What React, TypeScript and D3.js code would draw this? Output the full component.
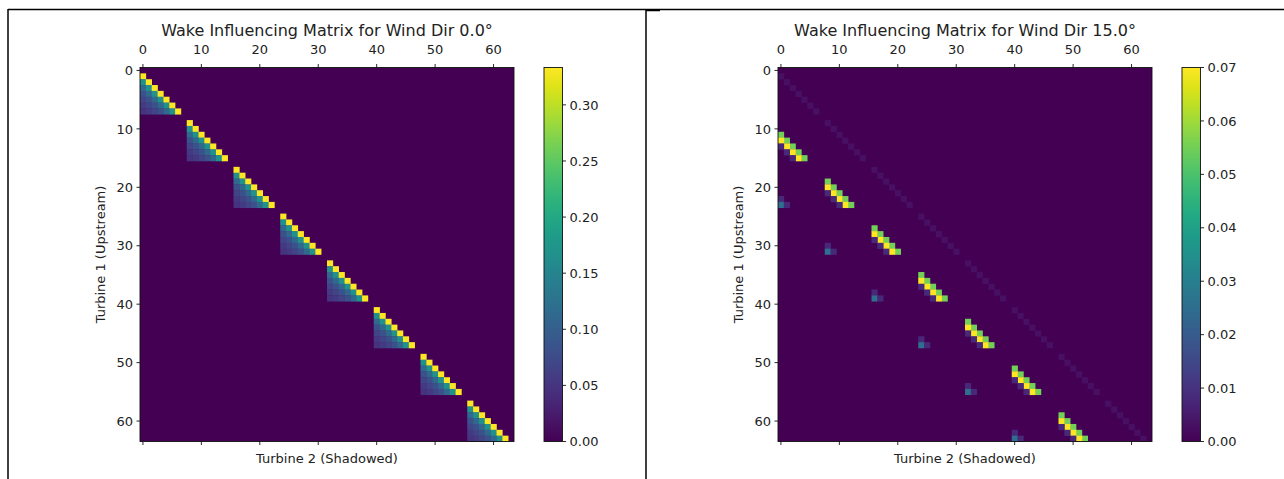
import React from 'react';
import * as d3 from 'd3';

// 8 x 8 farm -> 64 x 64 influence matrix (row = upstream turbine, col = shadowed turbine)
const GRID = 8;
const N = GRID * GRID;

const AXIS_TICKS = [0, 10, 20, 30, 40, 50, 60];

// Wind dir 0 deg: influence inside one grid row, by gap (1..7) between the turbines
const WAKE_0_BY_GAP = [0.333, 0.167, 0.111, 0.083, 0.067, 0.056, 0.048];
const CBAR_0_TICKS = [0, 0.05, 0.1, 0.15, 0.2, 0.25, 0.3];
const VMAX_0 = 0.3333;

// Wind dir 15 deg
const WAKE_15_SAME_ROW = [0.003]; // gap 1 only
const WAKE_15_NEXT_ROW = [
    { shift: 3, v: 0.055 },
    { shift: 4, v: 0.07 },
    { shift: 5, v: 0.008 },
];
const WAKE_15_SECOND_ROW = [
    { p: 6, q: 0, v: 0.008 },
    { p: 7, q: 0, v: 0.025 },
    { p: 7, q: 1, v: 0.008 },
];
const CBAR_15_TICKS = [0, 0.01, 0.02, 0.03, 0.04, 0.05, 0.06, 0.07];
const VMAX_15 = 0.07;

type Cell = { r: number; c: number; v: number };

const cells0: Cell[] = [];
for (let b = 0; b < GRID; b++) {
    for (let p = 0; p < GRID; p++) {
        for (let q = 0; q < p; q++) {
            cells0.push({ r: b * GRID + p, c: b * GRID + q, v: WAKE_0_BY_GAP[p - q - 1] });
        }
    }
}

const cells15: Cell[] = [];
for (let b = 0; b < GRID; b++) {
    WAKE_15_SAME_ROW.forEach((v, i) => {
        for (let q = 0; q + i + 1 < GRID; q++) {
            cells15.push({ r: b * GRID + q + i + 1, c: b * GRID + q, v });
        }
    });
    if (b + 1 < GRID) {
        WAKE_15_NEXT_ROW.forEach(({ shift, v }) => {
            for (let q = 0; q + shift < GRID; q++) {
                cells15.push({ r: (b + 1) * GRID + q + shift, c: b * GRID + q, v });
            }
        });
    }
    if (b + 2 < GRID) {
        WAKE_15_SECOND_ROW.forEach(({ p, q, v }) => {
            cells15.push({ r: (b + 2) * GRID + p, c: b * GRID + q, v });
        });
    }
}

const FONT = 'DejaVu Sans, sans-serif';
const TEXT = '#222';

const Panel = ({ ox, title, cells, vmax, cbarTicks, id }: {
    ox: number; title: string; cells: Cell[]; vmax: number; cbarTicks: number[]; id: string;
}) => {
    const top = 67.5;
    const size = 374;
    const x = d3.scaleLinear().domain([-0.5, N - 0.5]).range([ox, ox + size]);
    const y = d3.scaleLinear().domain([-0.5, N - 0.5]).range([top, top + size]);
    const color = d3.scaleSequential(d3.interpolateViridis).domain([0, vmax]);
    const cw = x(1) - x(0);

    const cbX = ox + size + 30;
    const cbW = 18.5;
    const cb = d3.scaleLinear().domain([0, vmax]).range([top + size, top]);
    const fmt = d3.format('.2f');
    const stops = d3.range(0, 1.0001, 0.05);

    return (
        <g>
            <defs>
                <linearGradient id={id} x1="0" y1="1" x2="0" y2="0">
                    {stops.map(t => (
                        <stop key={t} offset={t} stopColor={d3.interpolateViridis(t)} />
                    ))}
                </linearGradient>
            </defs>
            <text x={ox + size / 2} y={36} textAnchor="middle" fontSize={16} fontFamily={FONT} fill={TEXT}>
                {title}
            </text>
            <rect x={ox} y={top} width={size} height={size} fill={color(0)} />
            {cells.map((d, i) => (
                <rect key={i} x={x(d.c - 0.5)} y={y(d.r - 0.5)} width={cw + 0.3} height={cw + 0.3}
                    fill={color(d.v)} />
            ))}
            <rect x={ox} y={top} width={size} height={size} fill="none" stroke="#111" strokeWidth={0.9} />
            {AXIS_TICKS.map(t => (
                <g key={t}>
                    <line x1={x(t)} x2={x(t)} y1={top} y2={top - 3.5} stroke="#111" strokeWidth={0.9} />
                    <line x1={x(t)} x2={x(t)} y1={top + size} y2={top + size + 3.5} stroke="#111" strokeWidth={0.9} />
                    <text x={x(t)} y={54} textAnchor="middle" fontSize={13} fontFamily={FONT} fill={TEXT}>{t}</text>
                    <line x1={ox} x2={ox - 3.5} y1={y(t)} y2={y(t)} stroke="#111" strokeWidth={0.9} />
                    <text x={ox - 7} y={y(t)} dy="0.36em" textAnchor="end" fontSize={13} fontFamily={FONT} fill={TEXT}>{t}</text>
                </g>
            ))}
            <text x={ox + size / 2} y={463} textAnchor="middle" fontSize={13} fontFamily={FONT} fill={TEXT}>
                Turbine 2 (Shadowed)
            </text>
            <text transform={`translate(${ox - 35},${top + size / 2}) rotate(-90)`} textAnchor="middle"
                fontSize={13} fontFamily={FONT} fill={TEXT}>
                Turbine 1 (Upstream)
            </text>
            <rect x={cbX} y={top} width={cbW} height={size} fill={`url(#${id})`} stroke="#111" strokeWidth={0.9} />
            {cbarTicks.map(t => (
                <g key={t}>
                    <line x1={cbX + cbW} x2={cbX + cbW + 3.5} y1={cb(t)} y2={cb(t)} stroke="#111" strokeWidth={0.9} />
                    <text x={cbX + cbW + 7} y={cb(t)} dy="0.36em" fontSize={13} fontFamily={FONT} fill={TEXT}>{fmt(t)}</text>
                </g>
            ))}
        </g>
    );
};

export default function App() {
    return (
        <div style={{ position: 'absolute', left: 0, top: 0 }}>
            <svg width={1284} height={479} style={{ display: 'block', background: '#fff' }}>
                <line x1={8} x2={1284} y1={9.5} y2={9.5} stroke="#000" strokeWidth={1.5} />
                <line x1={8} x2={8} y1={9} y2={479} stroke="#000" strokeWidth={1.5} />
                <line x1={646} x2={646} y1={9} y2={479} stroke="#000" strokeWidth={1.5} />
                <line x1={646} x2={660} y1={10.5} y2={10.5} stroke="#000" strokeWidth={1.5} />
                <Panel ox={140} id="cb0" title="Wake Influencing Matrix for Wind Dir 0.0°"
                    cells={cells0} vmax={VMAX_0} cbarTicks={CBAR_0_TICKS} />
                <Panel ox={778} id="cb15" title="Wake Influencing Matrix for Wind Dir 15.0°"
                    cells={cells15} vmax={VMAX_15} cbarTicks={CBAR_15_TICKS} />
            </svg>
        </div>
    );
}
